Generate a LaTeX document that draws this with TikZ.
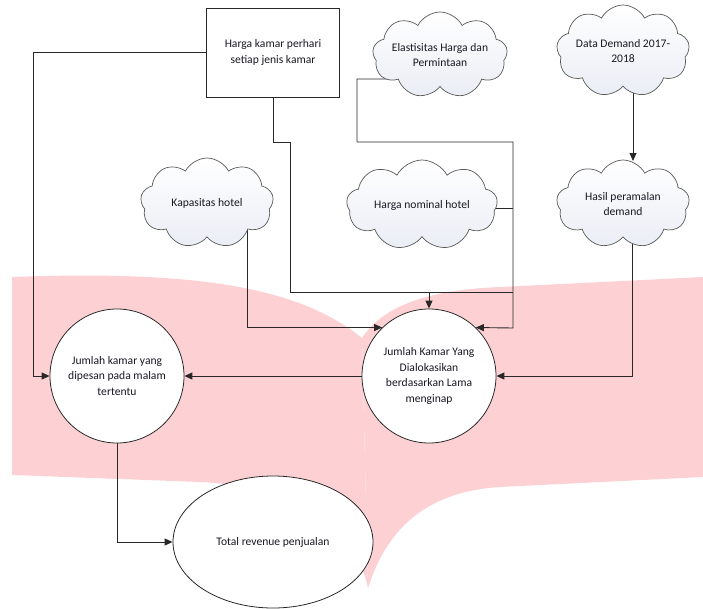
\documentclass[tikz,border=0pt]{standalone}
\usepackage{fontspec}
\setmainfont{Carlito}
\usetikzlibrary{shapes.symbols,shapes.geometric,arrows.meta}
\pgfdeclarelayer{wm}
\pgfdeclarelayer{links}
\pgfsetlayers{wm,links,main}
\definecolor{wmpink}{RGB}{253,209,212}
\definecolor{linec}{RGB}{40,40,40}
\definecolor{cloudb}{RGB}{234,237,245}
\definecolor{txt}{RGB}{25,25,35}
\tikzset{
  every node/.style={font=\fontsize{11.6}{15.5}\selectfont, text=txt, align=center},
  conn/.style={draw=linec, line width=0.9pt},
  arr/.style={conn, -{Triangle[length=8pt,width=7pt]}},
  boxnode/.style={draw=linec, line width=0.9pt, fill=white, minimum width=133pt, minimum height=89pt, inner sep=2pt},
  cloudnode/.style={cloud, cloud puffs=9, cloud puff arc=125, cloud ignores aspect, draw=gray!70!black, line width=0.7pt,
     top color=white, bottom color=cloudb, inner sep=0pt},
  circnode/.style={circle, draw=linec, line width=0.8pt, fill=white, minimum size=134pt, inner sep=0pt},
  ellnode/.style={ellipse, draw=linec, line width=0.8pt, fill=white, minimum width=200pt, minimum height=132pt, inner sep=0pt}
}
\begin{document}
\begin{tikzpicture}[x=1pt,y=-1pt]
\useasboundingbox (0,0) rectangle (703,608);
% watermark
\begin{pgfonlayer}{wm}
\fill[wmpink] (12,277) .. controls (200,270) and (300,288) .. (362,338)
  -- (368,588) .. controls (355,525) and (290,486) .. (200,482) -- (12,475) -- cycle;
\fill[wmpink] (362,338) .. controls (380,310) and (420,290) .. (500,287)
  -- (703,277) -- (703,477) -- (500,487) .. controls (420,492) and (385,535) .. (368,588) -- cycle;
\end{pgfonlayer}

% nodes
\node[boxnode] (rect) at (273,52.5) {Harga kamar perhari\\setiap jenis kamar};
\node[cloudnode, minimum width=134pt, minimum height=86pt] (el) at (440,55) {Elastisitas Harga dan\\Permintaan};
\node[cloudnode, minimum width=133pt, minimum height=92pt] (dd) at (623,51) {Data Demand 2017-\\2018};
\node[cloudnode, minimum width=133pt, minimum height=90pt] (kap) at (207,203) {Kapasitas hotel};
\node[cloudnode, minimum width=151pt, minimum height=90pt] (hn) at (422,205) {Harga nominal hotel};
\node[cloudnode, minimum width=133pt, minimum height=88pt] (hp) at (623,204) {Hasil peramalan\\demand};
\node[circnode] (c1) at (117,376) {Jumlah kamar yang\\dipesan pada malam\\tertentu};
\node[circnode] (c2) at (429,376) {Jumlah Kamar Yang\\Dialokasikan\\berdasarkan Lama\\menginap};
\node[ellnode] (tr) at (273,542) {Total revenue penjualan};

% coordinates (free ends hidden under the clouds)
\coordinate (j1) at (33,52.5);
\coordinate (k1) at (290,142);
\coordinate (k2) at (513,292);
\coordinate (e0) at (395,79);
\coordinate (e1) at (357,142);
\coordinate (e2) at (513,328);
\coordinate (hn0) at (470,208);
\coordinate (ka0) at (247,215);
\coordinate (d0) at (633,80);
\coordinate (d1) at (633,161);
\coordinate (h0) at (632,225);

% connectors
\begin{pgfonlayer}{links}
\draw[arr] (rect.west) -- (j1) |- (c1.west);
\draw[conn] (rect.south) |- (k1) |- (k2);
\draw[arr] (c2.north |- k2) -- (c2.north);
\draw[arr] (e0) -| (e1) -| (e2) -- (c2.46);
\draw[conn] (hn0) -- (hn0 -| e2);
\draw[arr] (ka0) |- (c2.134);
\draw[arr] (d0) -- (d1);
\draw[arr] (h0) |- (c2.east);
\draw[arr] (c2.west) -- (c1.east);
\draw[arr] (c1.south) |- (tr.west);
\end{pgfonlayer}
\end{tikzpicture}
\end{document}
